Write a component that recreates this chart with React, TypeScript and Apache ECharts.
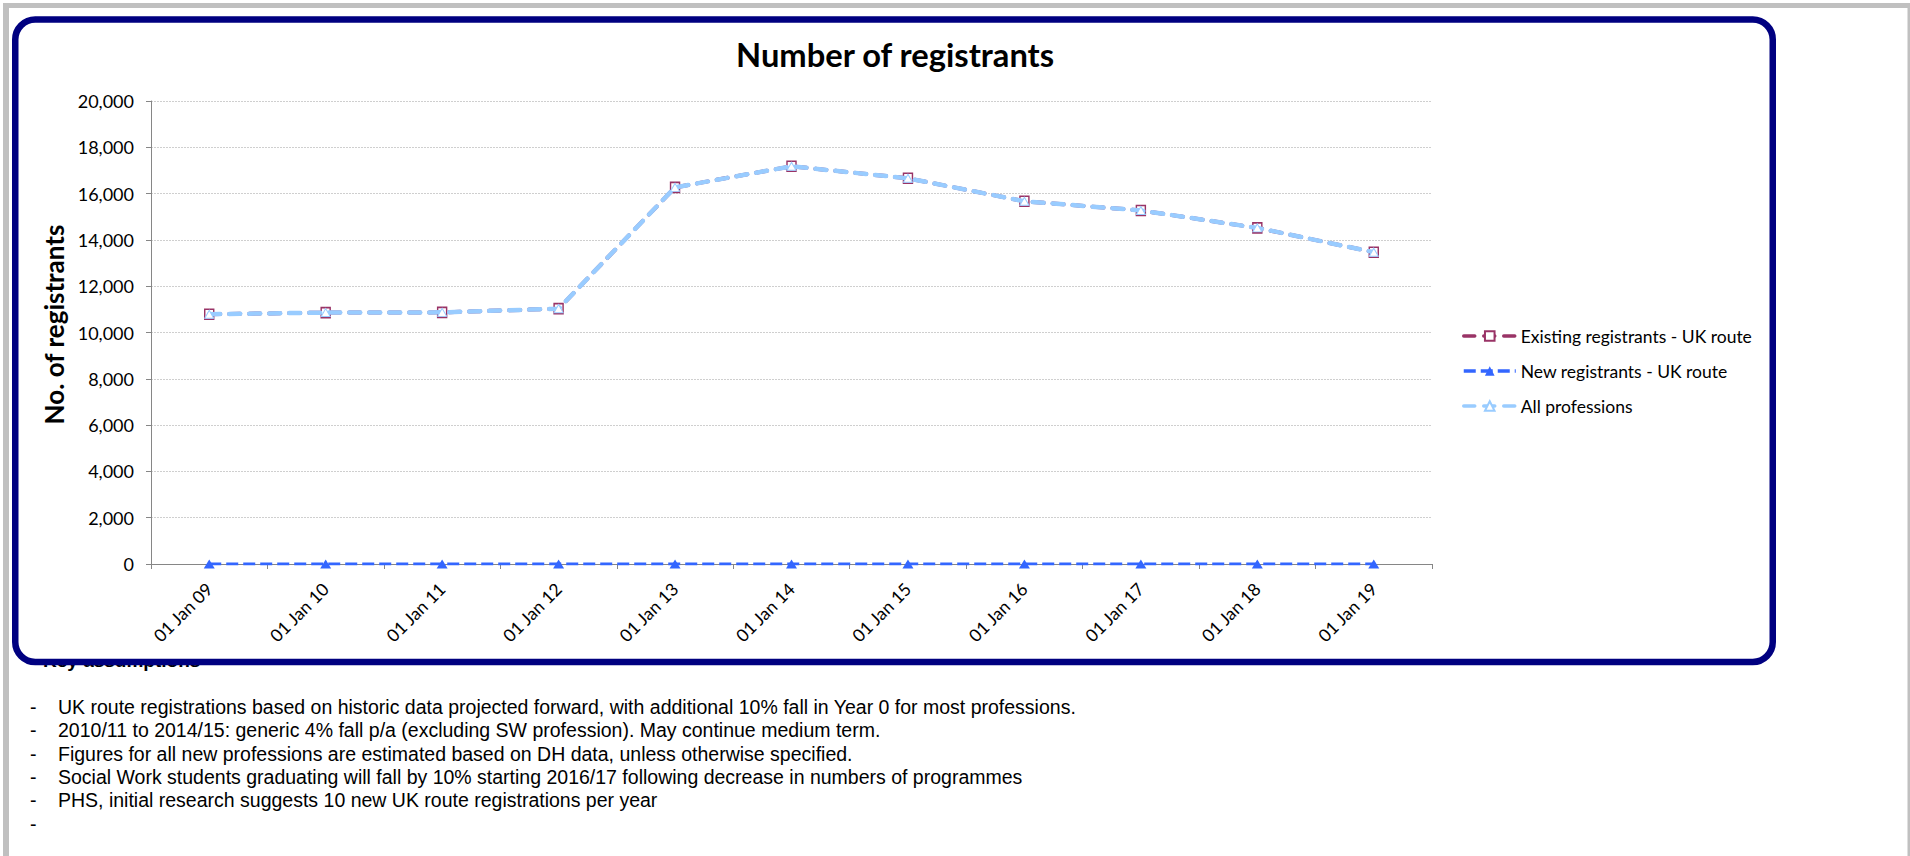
import React, { useEffect, useRef } from "react";
import * as echarts from "echarts";

const categories = [
  "01 Jan 09", "01 Jan 10", "01 Jan 11", "01 Jan 12", "01 Jan 13", "01 Jan 14",
  "01 Jan 15", "01 Jan 16", "01 Jan 17", "01 Jan 18", "01 Jan 19",
];
const existingUK = [10790, 10860, 10870, 11030, 16270, 17180, 16660, 15670, 15270, 14520, 13470];
const newUK = [0, 0, 0, 0, 0, 0, 0, 0, 0, 0, 0];
const allProfessions = [10790, 10860, 10870, 11030, 16270, 17180, 16660, 15670, 15270, 14520, 13470];
const seriesNames = ["Existing registrants - UK route", "New registrants - UK route", "All professions"];
const yMin = 0;
const yMax = 20000;
const yInterval = 2000;
const chartTitle = "Number of registrants";
const yAxisTitle = "No. of registrants";
const notesHeading = "Key assumptions";
const notes = [
  "UK route registrations based on historic data projected forward, with additional 10% fall in Year 0 for most professions.",
  "2010/11 to 2014/15: generic 4% fall p/a (excluding SW profession). May continue medium term.",
  "Figures for all new professions are estimated based on DH data, unless otherwise specified.",
  "Social Work students graduating will fall by 10% starting 2016/17 following decrease in numbers of programmes",
  "PHS, initial research suggests 10 new UK route registrations per year",
  "",
];

const FONT = "Lato, 'Open Sans', sans-serif";
const NOTE_FONT = "'Liberation Sans', Arial, sans-serif";
const MAROON = "#993366";
const BLUE = "#3366ff";
const LIGHT = "#99ccff";

export default function App() {
  const ref = useRef<HTMLDivElement>(null);
  useEffect(() => {
    if (!ref.current) return;
    const chart = echarts.init(ref.current, undefined, { renderer: "svg" });
    const noteFs = 19.5;
    const lineGap = 23.3;
    const firstBaseline = 714;
    const noteGraphics: any[] = [];
    notes.forEach((t, i) => {
      const yMid = firstBaseline + i * lineGap - noteFs * 0.35;
      noteGraphics.push({
        type: "text", x: 30, y: yMid, z: 5,
        style: { text: "-", font: `${noteFs}px ${NOTE_FONT}`, fill: "#000", textVerticalAlign: "middle" },
      });
      if (t) {
        noteGraphics.push({
          type: "text", x: 58, y: yMid, z: 5,
          style: { text: t, font: `${noteFs}px ${NOTE_FONT}`, fill: "#000", textVerticalAlign: "middle" },
        });
      }
    });
    const dash = [11, 9];
    const option: any = {
      animation: false,
      backgroundColor: "#fff",
      title: {
        text: chartTitle,
        left: 731,
        top: 33,
        textStyle: { fontFamily: FONT, fontWeight: "bold", fontSize: 32.7, color: "#000" },
      },
      grid: { left: 151, right: 478, top: 101, bottom: 292, containLabel: false },
      legend: {
        orient: "vertical",
        left: 1457,
        top: 322,
        itemWidth: 52,
        itemHeight: 12,
        itemGap: 17,
        data: [
          { name: seriesNames[0], lineStyle: { width: 3.5 } },
          { name: seriesNames[1], lineStyle: { width: 3.5 } },
          { name: seriesNames[2], lineStyle: { width: 3.5 } },
        ],
        textStyle: { fontFamily: FONT, fontSize: 17.5, color: "#000" },
      },
      xAxis: {
        type: "category",
        data: categories,
        boundaryGap: true,
        axisLine: { lineStyle: { color: "#868686", width: 1 } },
        axisTick: { show: true, length: 5, lineStyle: { color: "#868686" } },
        axisLabel: { rotate: 45, margin: 22, fontFamily: FONT, fontSize: 17.5, color: "#000" },
        splitLine: { show: false },
      },
      yAxis: {
        type: "value",
        min: yMin,
        max: yMax,
        interval: yInterval,
        name: yAxisTitle,
        nameLocation: "middle",
        nameRotate: 90,
        nameGap: 80,
        nameTextStyle: {
          fontFamily: FONT, fontWeight: "bold", fontSize: 26, color: "#000",
          padding: [0, 0, 0, 16],
        },
        axisLine: { show: true, lineStyle: { color: "#868686", width: 1 } },
        axisTick: { show: true, length: 5, lineStyle: { color: "#868686" } },
        axisLabel: {
          margin: 17,
          fontFamily: FONT,
          fontSize: 18,
          color: "#000",
          formatter: (v: number) => v.toLocaleString("en-US"),
        },
        splitLine: { show: true, lineStyle: { color: "#cfcfcf", type: [2, 1], width: 1 } },
      },
      series: [
        {
          name: seriesNames[0],
          type: "line",
          data: existingUK,
          symbol: "rect",
          symbolSize: [9, 10],
          lineStyle: { color: MAROON, width: 4, type: dash, cap: "round" },
          itemStyle: { color: "#ffffff", borderColor: MAROON, borderWidth: 1.5 },
          z: 2,
        },
        {
          name: seriesNames[1],
          type: "line",
          data: newUK,
          symbol: "triangle",
          symbolSize: [11, 9],
          lineStyle: { color: BLUE, width: 3, type: [12, 5] },
          itemStyle: { color: BLUE },
          z: 3,
        },
        {
          name: seriesNames[2],
          type: "line",
          data: allProfessions,
          symbol: "triangle",
          symbolSize: [9, 8],
          lineStyle: { color: LIGHT, width: 4.5, type: dash, cap: "round" },
          itemStyle: { color: "#ffffff", borderColor: LIGHT, borderWidth: 1 },
          z: 4,
        },
      ],
      graphic: [
        { type: "rect", z: -5, shape: { x: 3, y: 3, width: 1907, height: 5 }, style: { fill: "#c0c0c0" } },
        { type: "rect", z: -5, shape: { x: 3, y: 3, width: 6, height: 853 }, style: { fill: "#c0c0c0" } },
        { type: "rect", z: -5, shape: { x: 1907.5, y: 3, width: 2.5, height: 853 }, style: { fill: "#c0c0c0" } },
        {
          type: "text", x: 43, y: 667 - 19 * 0.35, z: -4,
          style: { text: notesHeading, font: `bold 19px ${NOTE_FONT}`, fill: "#000", textVerticalAlign: "middle" },
        },
        {
          type: "rect", z: -3,
          shape: { x: 15.25, y: 19.5, width: 1757.5, height: 642.5, r: 20 },
          style: { fill: "#ffffff", stroke: "#000080", lineWidth: 6.5 },
        },
        ...noteGraphics,
      ],
    };
    chart.setOption(option);
    return () => chart.dispose();
  }, []);
  return (
    <div
      ref={ref}
      style={{ position: "fixed", left: 0, top: 0, width: 1910, height: 856, background: "#fff" }}
    />
  );
}
